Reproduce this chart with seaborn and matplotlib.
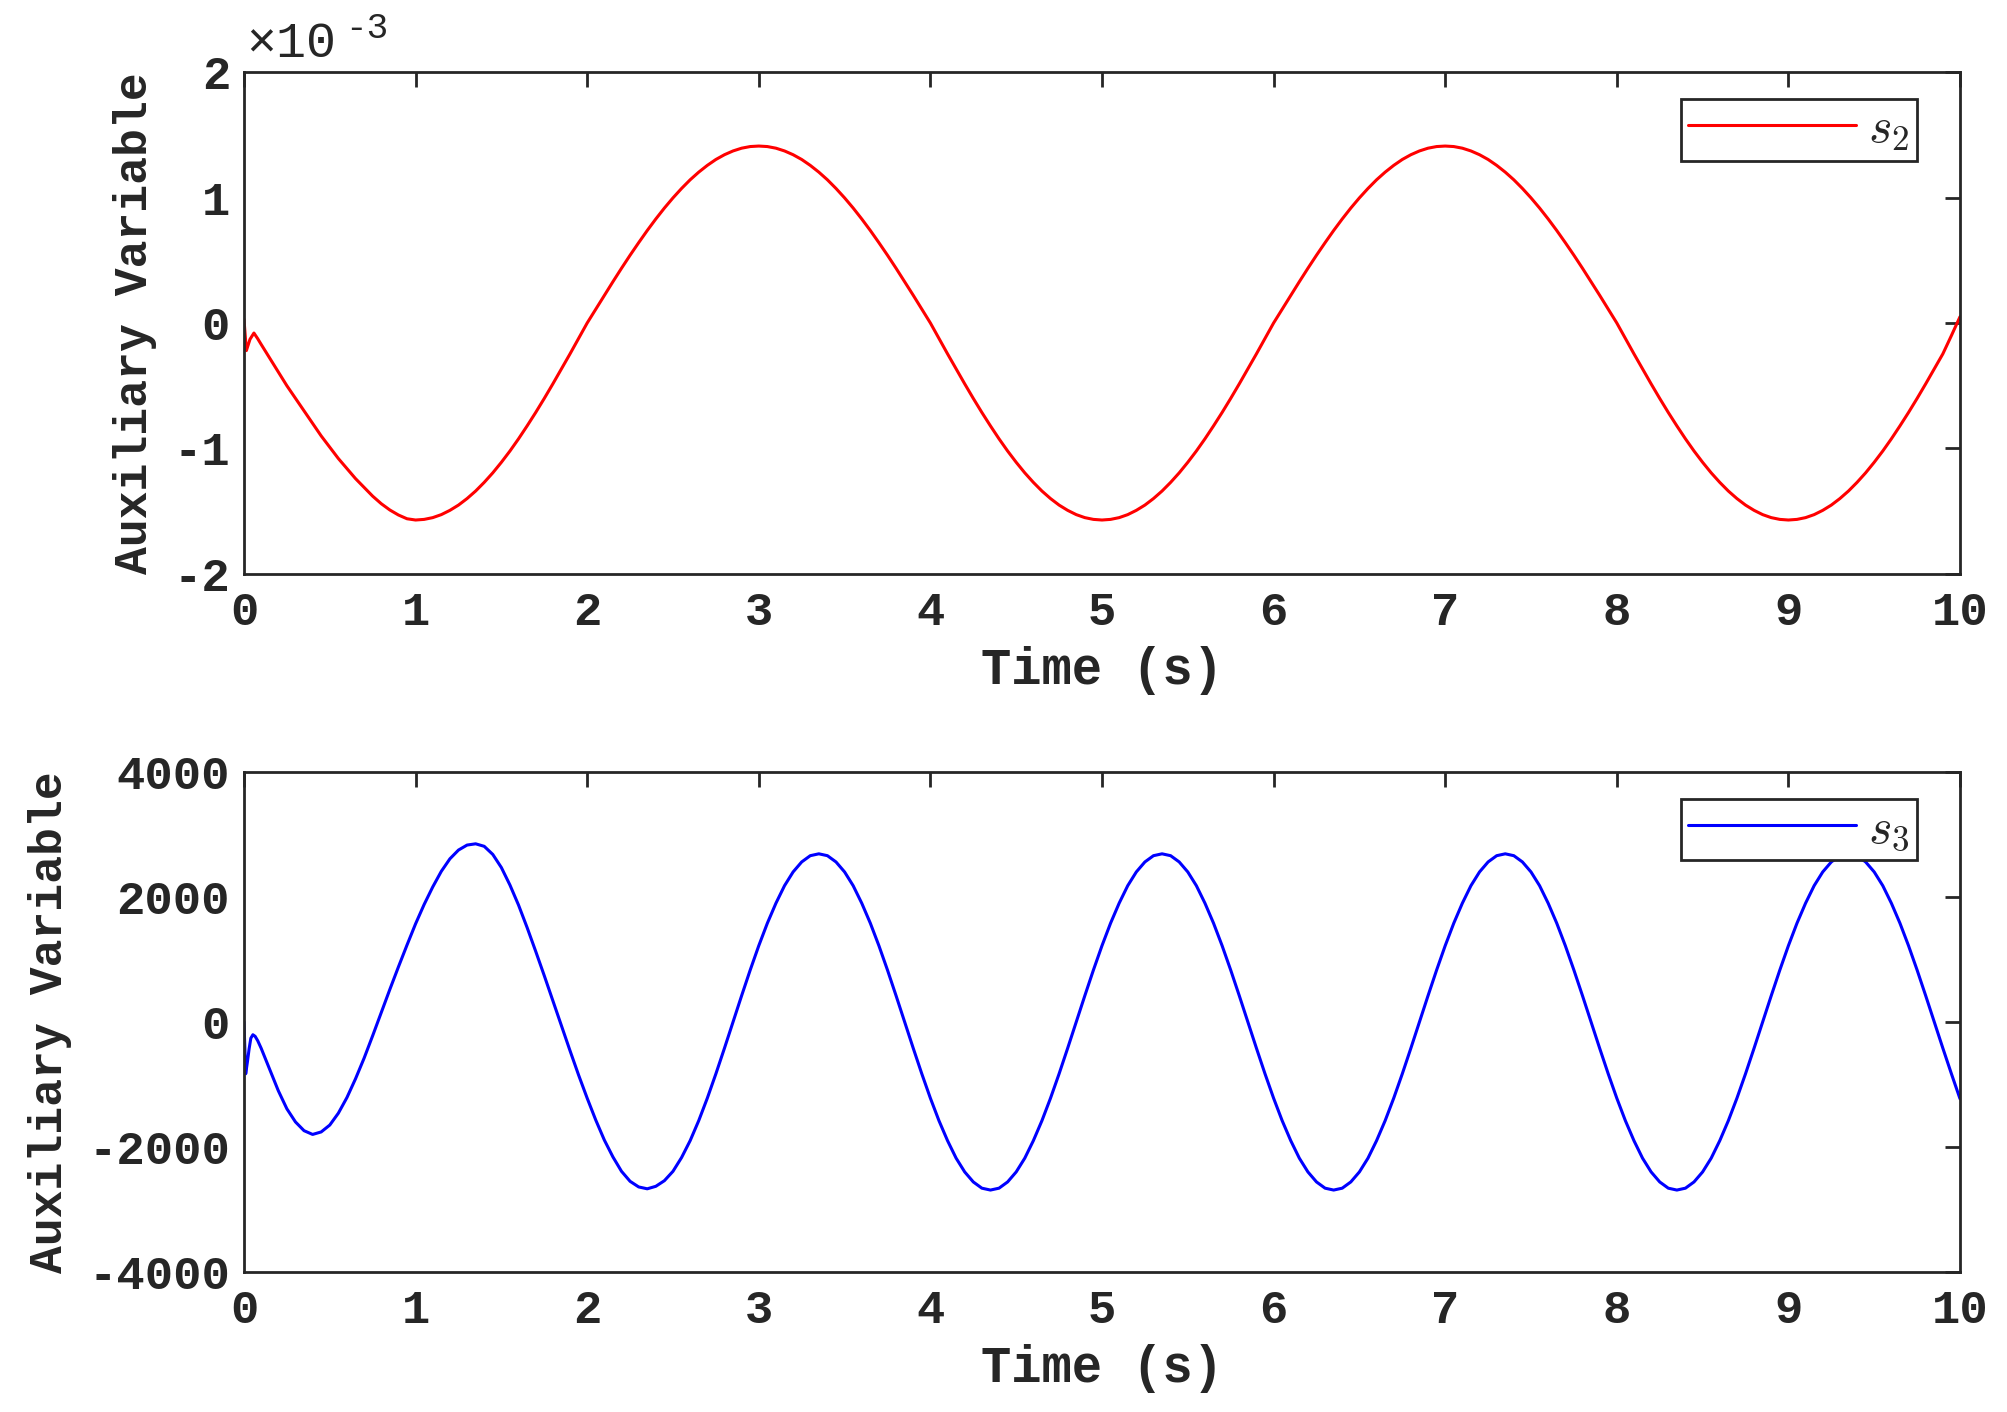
import numpy as np
import pandas as pd
import matplotlib
matplotlib.use('Agg')
import matplotlib.pyplot as plt
import seaborn as sns

# 数据
# s2, 单位 1e-3, 起始瞬态
s2_time_start = [0.0, 0.014, 0.035, 0.058, 0.08]
s2_start = [0.03, -0.22, -0.13, -0.08, -0.125]
# s2, t = 0.10 ... 10.00, 步长 0.05
s2_time = np.round(np.arange(0.1, 10.001, 0.05), 3)
s2_vals = [
    # 0.10 - 1.00
    -0.17, -0.28, -0.39, -0.50, -0.60, -0.70, -0.80, -0.90, -0.99, -1.08,
    -1.16, -1.24, -1.31, -1.38, -1.44, -1.49, -1.53, -1.56, -1.57,
    # 1.05 - 2.00
    -1.565, -1.551, -1.527, -1.493, -1.451, -1.399, -1.339, -1.270, -1.194, -1.110,
    -1.020, -0.923, -0.820, -0.713, -0.601, -0.485, -0.366, -0.246, -0.123, 0.0,
    # 2.05 - 3.00
    0.110, 0.221, 0.329, 0.436, 0.540, 0.640, 0.737, 0.829, 0.916, 0.997,
    1.072, 1.141, 1.202, 1.256, 1.303, 1.341, 1.371, 1.393, 1.406, 1.410,
    # 3.05 - 4.00
    1.406, 1.393, 1.371, 1.341, 1.303, 1.256, 1.202, 1.141, 1.072, 0.997,
    0.916, 0.829, 0.737, 0.640, 0.540, 0.436, 0.329, 0.221, 0.110, 0.0,
    # 4.05 - 5.00
    -0.123, -0.246, -0.366, -0.485, -0.601, -0.713, -0.820, -0.923, -1.020, -1.110,
    -1.194, -1.270, -1.339, -1.399, -1.451, -1.493, -1.527, -1.551, -1.565, -1.570,
    # 5.05 - 6.00
    -1.565, -1.551, -1.527, -1.493, -1.451, -1.399, -1.339, -1.270, -1.194, -1.110,
    -1.020, -0.923, -0.820, -0.713, -0.601, -0.485, -0.366, -0.246, -0.123, 0.0,
    # 6.05 - 7.00
    0.110, 0.221, 0.329, 0.436, 0.540, 0.640, 0.737, 0.829, 0.916, 0.997,
    1.072, 1.141, 1.202, 1.256, 1.303, 1.341, 1.371, 1.393, 1.406, 1.410,
    # 7.05 - 8.00
    1.406, 1.393, 1.371, 1.341, 1.303, 1.256, 1.202, 1.141, 1.072, 0.997,
    0.916, 0.829, 0.737, 0.640, 0.540, 0.436, 0.329, 0.221, 0.110, 0.0,
    # 8.05 - 9.00
    -0.123, -0.246, -0.366, -0.485, -0.601, -0.713, -0.820, -0.923, -1.020, -1.110,
    -1.194, -1.270, -1.339, -1.399, -1.451, -1.493, -1.527, -1.551, -1.565, -1.570,
    # 9.05 - 10.00
    -1.565, -1.551, -1.527, -1.493, -1.451, -1.399, -1.339, -1.270, -1.194, -1.110,
    -1.020, -0.923, -0.820, -0.713, -0.601, -0.485, -0.366, -0.246, -0.100, 0.050,
]

# s3, 起始瞬态
s3_time_start = [0.0, 0.01, 0.02, 0.03, 0.04, 0.052, 0.065, 0.08]
s3_start = [0, -830, -640, -430, -260, -205, -230, -300]
# s3, t = 0.10 ... 10.00, 步长 0.05
s3_time = np.round(np.arange(0.1, 10.001, 0.05), 3)
s3_vals = [
    # 0.10 - 1.05
    -420, -760, -1100, -1390, -1600, -1740, -1800, -1760, -1650, -1460,
    -1210, -910, -580, -220, 150, 520, 880, 1230, 1570, 1880,
    # 1.10 - 2.05
    2160, 2410, 2610, 2750, 2830, 2850, 2810, 2680, 2470, 2190,
    1870, 1510, 1130, 740, 340, -60, -460, -850, -1220, -1570,
    # 2.10 - 2.80
    -1890, -2160, -2390, -2550, -2640, -2670, -2630, -2540, -2390, -2170,
    -1900, -1580, -1220, -830, -420,
    # 2.85 - 3.80
    0, 420, 830, 1220, 1580, 1900, 2180, 2400, 2560, 2660,
    2690, 2660, 2560, 2400, 2180, 1900, 1580, 1220, 830, 420,
    # 3.85 - 4.80
    0, -420, -830, -1220, -1580, -1900, -2180, -2400, -2560, -2660,
    -2690, -2660, -2560, -2400, -2180, -1900, -1580, -1220, -830, -420,
    # 4.85 - 5.80
    0, 420, 830, 1220, 1580, 1900, 2180, 2400, 2560, 2660,
    2690, 2660, 2560, 2400, 2180, 1900, 1580, 1220, 830, 420,
    # 5.85 - 6.80
    0, -420, -830, -1220, -1580, -1900, -2180, -2400, -2560, -2660,
    -2690, -2660, -2560, -2400, -2180, -1900, -1580, -1220, -830, -420,
    # 6.85 - 7.80
    0, 420, 830, 1220, 1580, 1900, 2180, 2400, 2560, 2660,
    2690, 2660, 2560, 2400, 2180, 1900, 1580, 1220, 830, 420,
    # 7.85 - 8.80
    0, -420, -830, -1220, -1580, -1900, -2180, -2400, -2560, -2660,
    -2690, -2660, -2560, -2400, -2180, -1900, -1580, -1220, -830, -420,
    # 8.85 - 9.80
    0, 420, 830, 1220, 1580, 1900, 2180, 2400, 2560, 2660,
    2680, 2660, 2560, 2400, 2180, 1900, 1580, 1220, 830, 420,
    # 9.85 - 10.00
    0, -420, -830, -1230,
]

x_ticks = list(range(0, 11))
s2_ticks = [-2, -1, 0, 1, 2]
s3_ticks = [-4000, -2000, 0, 2000, 4000]

df2 = pd.DataFrame({'t': np.concatenate([s2_time_start, s2_time]),
                    'v': np.concatenate([s2_start, s2_vals]) * 1e-3})
df3 = pd.DataFrame({'t': np.concatenate([s3_time_start, s3_time]),
                    'v': np.concatenate([s3_start, s3_vals])})

sns.set_theme(style='white')
plt.rcParams['font.family'] = ['Liberation Mono', 'DejaVu Sans']
plt.rcParams['font.weight'] = 'bold'
plt.rcParams['mathtext.fontset'] = 'cm'

dark = '#262626'
fig = plt.figure(figsize=(10.04, 7.06), dpi=200)
ax1 = fig.add_axes([0.1215, 0.5935, 0.8546, 0.3555])
ax2 = fig.add_axes([0.1215, 0.0992, 0.8546, 0.3541])

sns.lineplot(data=df2, x='t', y='v', ax=ax1, color='#ff0000', lw=1.1, label='$s_2$')
sns.lineplot(data=df3, x='t', y='v', ax=ax2, color='#0000ff', lw=1.1, label='$s_3$')

for ax, yt, ylim in [(ax1, [v * 1e-3 for v in s2_ticks], (-2e-3, 2e-3)),
                     (ax2, s3_ticks, (-4000, 4000))]:
    ax.set_xlim(0, 10)
    ax.set_ylim(*ylim)
    ax.set_xticks(x_ticks)
    ax.set_yticks(yt)
    ax.tick_params(direction='in', length=5.5, width=1.0, color=dark,
                   labelcolor=dark, labelsize=17, top=True, right=True)
    ax.tick_params(axis='x', pad=6)
    ax.tick_params(axis='y', pad=5)
    for sp in ax.spines.values():
        sp.set_visible(True)
        sp.set_color(dark)
        sp.set_linewidth(1.0)
    ax.set_xlabel('Time (s)', fontsize=18.2, fontweight='bold', color=dark, labelpad=4)
    ax.set_ylabel('Auxiliary Variable', fontsize=16.7, fontweight='bold', color=dark, labelpad=6)
    leg = ax.legend(loc='upper right', bbox_to_anchor=(0.975, 0.946), borderaxespad=0,
                    fontsize=18, handlelength=3.35, handletextpad=0.25, fancybox=False,
                    framealpha=1, edgecolor=dark, borderpad=0.15)
    leg.get_frame().set_linewidth(1.0)

ax1.set_yticklabels([str(v) for v in s2_ticks])
ax2.set_yticklabels([str(v) for v in s3_ticks])
ax1.set_xticklabels([str(v) for v in x_ticks])
ax2.set_xticklabels([str(v) for v in x_ticks])

# 科学计数标注
ax1.text(0.001, 1.030, '\u00d710', transform=ax1.transAxes, ha='left', va='baseline',
         fontsize=18, fontweight='normal', color=dark)
ax1.text(0.059, 1.068, '-3', transform=ax1.transAxes, ha='left', va='baseline',
         fontsize=13, fontweight='normal', color=dark)

fig.savefig('out.png', dpi=200, facecolor='white')
